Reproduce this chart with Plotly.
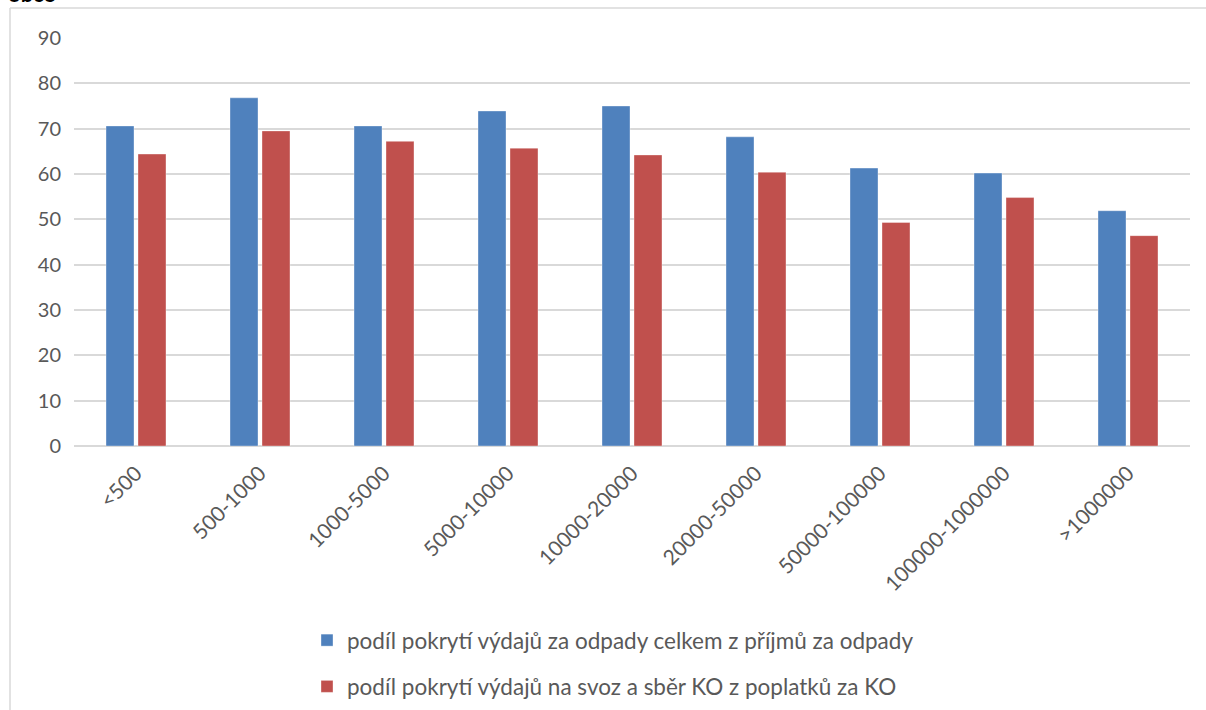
import plotly.graph_objects as go

categories = ["<500", "500-1000", "1000-5000", "5000-10000", "10000-20000",
              "20000-50000", "50000-100000", "100000-1000000", ">1000000"]
series1_name = "podíl pokrytí výdajů za odpady celkem z příjmů za odpady"
series1 = [70.6, 76.8, 70.6, 73.9, 75.0, 68.2, 61.3, 60.2, 51.9]
series2_name = "podíl pokrytí výdajů na svoz a sběr KO z poplatků za KO"
series2 = [64.4, 69.5, 67.2, 65.7, 64.2, 60.4, 49.3, 54.8, 46.4]
y_ticks = [0, 10, 20, 30, 40, 50, 60, 70, 80, 90]

W, H = 1206, 710
ML, MR, MT, MB = 74, 16, 38, 264
PW, PH = W - ML - MR, H - MT - MB

def px_x(x):
    return (x - ML) / PW

def px_y(y):
    return (H - MB - y) / PH

FONT = "Lato"
GRAY = "#595959"
GRID = "#D9D9D9"

fig = go.Figure()
fig.add_trace(go.Bar(x=categories, y=series1, name=series1_name,
                     marker=dict(color="#4F81BD", line=dict(color="rgba(255,255,255,0.35)", width=1)),
                     legendgroup="a"))
fig.add_trace(go.Bar(x=categories, y=series2, name=series2_name,
                     marker=dict(color="#C0504D", line=dict(color="rgba(255,255,255,0.35)", width=1)),
                     legendgroup="b"))

fig.update_layout(
    width=W, height=H,
    margin=dict(l=ML, r=MR, t=MT, b=MB, autoexpand=False),
    paper_bgcolor="white", plot_bgcolor="white",
    barmode="group", bargap=0.484, bargroupgap=0.125,
    font=dict(family=FONT, size=20, color=GRAY),
    showlegend=True,
    legend=dict(x=px_x(307), xanchor="left", y=px_y(619), yanchor="top",
                orientation="v", tracegroupgap=14, itemwidth=30,
                font=dict(family=FONT, size=22.5, color=GRAY),
                bgcolor="rgba(0,0,0,0)"),
    xaxis=dict(tickangle=-45, showgrid=False, showline=False, zeroline=False,
               tickfont=dict(family=FONT, size=21, color=GRAY), ticks="",
               ticklabelstandoff=10),
    yaxis=dict(range=[0, 90], tickvals=y_ticks, showgrid=True, gridcolor=GRID,
               gridwidth=1.5, zeroline=True, zerolinecolor=GRID, zerolinewidth=1.5,
               showline=False, ticks="", ticklabelstandoff=12,
               tickfont=dict(family=FONT, size=20, color=GRAY)),
    shapes=[
        dict(type="line", xref="paper", yref="paper", x0=px_x(10), x1=px_x(10),
             y0=px_y(8), y1=px_y(712), line=dict(color=GRID, width=1.5)),
        dict(type="line", xref="paper", yref="paper", x0=px_x(10), x1=px_x(1208),
             y0=px_y(8), y1=px_y(8), line=dict(color=GRID, width=1.5)),
    ],
    annotations=[
        dict(text="<b>obce</b>", xref="paper", yref="paper", x=px_x(6), y=px_y(9),
             xanchor="left", yanchor="bottom", showarrow=False,
             font=dict(family=FONT, size=22, color="black")),
    ],
)

fig.write_html("out.html", config={"displayModeBar": False},
               post_script="document.body.style.margin='0';")
